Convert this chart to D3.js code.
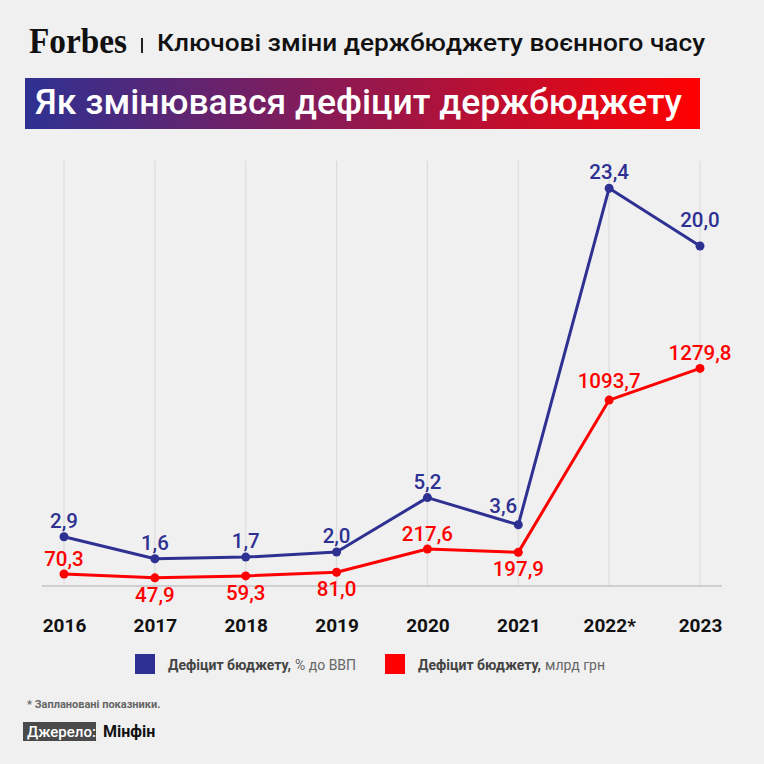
<!DOCTYPE html>
<html>
<head>
<meta charset="utf-8">
<script src="https://cdn.jsdelivr.net/npm/d3@7"></script>
<style>
  html, body { margin: 0; padding: 0; background: #f0f0f0; }
  svg { display: block; font-family: Roboto, "Noto Sans", sans-serif; }
</style>
</head>
<body>
<div id="chart"></div>
<script>
// Data
const years = ["2016", "2017", "2018", "2019", "2020", "2021", "2022*", "2023"];
const deficitPctGdp = [2.9, 1.6, 1.7, 2.0, 5.2, 3.6, 23.4, 20.0];
const deficitBnUah = [70.3, 47.9, 59.3, 81.0, 217.6, 197.9, 1093.7, 1279.8];
// where the red label sits relative to its point
const redLabelSide = ["above", "below", "below", "below", "above", "below", "above", "above"];

const blue = "#2e3192";
const red = "#ff0000";
const fmt = v => v.toFixed(1).replace(".", ",");

const W = 764, H = 764;
const svg = d3.select("#chart").append("svg")
    .attr("width", W)
    .attr("height", H);

svg.append("rect").attr("width", W).attr("height", H).attr("fill", "#f0f0f0");

// Header: logo + subtitle
svg.append("text")
    .attr("x", 29).attr("y", 53)
    .attr("font-family", "'Liberation Serif', 'DejaVu Serif', serif")
    .attr("font-weight", "bold")
    .attr("font-size", 36)
    .attr("textLength", 98)
    .attr("lengthAdjust", "spacingAndGlyphs")
    .attr("fill", "#111")
    .text("Forbes");

svg.append("rect")
    .attr("x", 141).attr("y", 38).attr("width", 2).attr("height", 15)
    .attr("fill", "#222");

svg.append("text")
    .attr("x", 157).attr("y", 51)
    .attr("font-size", 24)
    .attr("font-weight", 500)
    .attr("textLength", 548)
    .attr("lengthAdjust", "spacingAndGlyphs")
    .attr("fill", "#111")
    .text("Ключові зміни держбюджету воєнного часу");

// Gradient banner
const defs = svg.append("defs");
const grad = defs.append("linearGradient").attr("id", "bannerGrad");
grad.append("stop").attr("offset", "0%").attr("stop-color", "#2e3192");
grad.append("stop").attr("offset", "45%").attr("stop-color", "#8a1a55");
grad.append("stop").attr("offset", "100%").attr("stop-color", "#ff0000");

svg.append("rect")
    .attr("x", 25).attr("y", 78).attr("width", 675).attr("height", 51)
    .attr("fill", "url(#bannerGrad)");

svg.append("text")
    .attr("x", 35).attr("y", 114)
    .attr("font-size", 35)
    .attr("font-weight", 500)
    .attr("textLength", 647)
    .attr("lengthAdjust", "spacingAndGlyphs")
    .attr("fill", "#fff")
    .text("Як змінювався дефіцит держбюджету");

// Scales
const x = d3.scalePoint().domain(years).range([64, 700]);
const yTop = 161, yBase = 586;
const yPct = d3.scaleLinear().domain([0, 25]).range([yBase, yTop]);
const yUah = d3.scaleLinear().domain([0, 2500]).range([yBase, yTop]);

// Vertical gridlines
svg.append("g").selectAll("line")
    .data(years)
    .enter().append("line")
    .attr("x1", d => x(d)).attr("x2", d => x(d))
    .attr("y1", yTop).attr("y2", yBase)
    .attr("stroke", "#dcdcdc")
    .attr("stroke-width", 1.2);

// Baseline
svg.append("line")
    .attr("x1", 42).attr("x2", 722)
    .attr("y1", yBase).attr("y2", yBase)
    .attr("stroke", "#c4c4c4")
    .attr("stroke-width", 1.5);

// Year labels (x axis)
const xAxis = svg.append("g")
    .attr("transform", `translate(0, ${yBase})`)
    .call(d3.axisBottom(x).tickSize(0).tickPadding(0));
xAxis.select(".domain").remove();
xAxis.selectAll("text")
    .attr("y", 46)
    .attr("dy", 0)
    .attr("font-family", "Roboto, sans-serif")
    .attr("font-size", 19)
    .attr("font-weight", "bold")
    .attr("fill", "#111");

// Series
function drawSeries(values, yScale, color) {
    const pts = values.map((v, i) => [x(years[i]), yScale(v)]);
    svg.append("path")
        .attr("d", d3.line()(pts))
        .attr("fill", "none")
        .attr("stroke", color)
        .attr("stroke-width", 3)
        .attr("stroke-linejoin", "round");
    svg.append("g").selectAll("circle")
        .data(pts)
        .enter().append("circle")
        .attr("cx", d => d[0]).attr("cy", d => d[1])
        .attr("r", 4.5)
        .attr("fill", color);
}

drawSeries(deficitBnUah, yUah, red);
drawSeries(deficitPctGdp, yPct, blue);

// Value labels
svg.append("g").selectAll("text")
    .data(deficitPctGdp)
    .enter().append("text")
    .attr("x", (d, i) => x(years[i]) + (i === 5 ? -15 : 0))
    .attr("y", (d, i) => yPct(d) - (i === 7 ? 19 : (i === 5 ? 12 : 9)))
    .attr("text-anchor", "middle")
    .attr("font-size", 20.5)
    .attr("font-weight", 500)
    .attr("fill", blue)
    .text(fmt);

svg.append("g").selectAll("text")
    .data(deficitBnUah)
    .enter().append("text")
    .attr("x", (d, i) => x(years[i]))
    .attr("y", (d, i) => yUah(d) + (redLabelSide[i] === "above" ? (i === 6 ? -12 : -8) : 24))
    .attr("text-anchor", "middle")
    .attr("font-size", 20.5)
    .attr("font-weight", 500)
    .attr("fill", red)
    .text(fmt);

// Legend
const legendItems = [
    { color: blue, bold: "Дефіцит бюджету,", rest: "% до ВВП", x: 135 },
    { color: red, bold: "Дефіцит бюджету,", rest: "млрд грн", x: 385 }
];
const legend = svg.append("g").selectAll("g")
    .data(legendItems)
    .enter().append("g")
    .attr("transform", d => `translate(${d.x}, 654)`);
legend.append("rect")
    .attr("width", 20).attr("height", 20)
    .attr("fill", d => d.color);
legend.append("text")
    .attr("class", "lg-bold")
    .attr("x", 33).attr("y", 15.5)
    .attr("font-size", 14)
    .attr("font-weight", "bold")
    .attr("fill", "#444")
    .text(d => d.bold);
legend.each(function() {
    const g = d3.select(this);
    const w = g.select(".lg-bold").node().getComputedTextLength();
    g.append("text")
        .attr("x", 33 + w + 4).attr("y", 15.5)
        .attr("font-size", 14)
        .attr("fill", "#666")
        .text(d => d.rest);
});

// Footnote and source
svg.append("text")
    .attr("x", 27).attr("y", 708)
    .attr("font-size", 11)
    .attr("font-weight", "bold")
    .attr("fill", "#666")
    .text("* Заплановані показники.");

svg.append("rect")
    .attr("x", 23).attr("y", 722).attr("width", 73).attr("height", 19)
    .attr("fill", "#4a4a4a");
svg.append("text")
    .attr("x", 27).attr("y", 737)
    .attr("font-size", 15)
    .attr("font-weight", 500)
    .attr("fill", "#fff")
    .text("Джерело:");
svg.append("text")
    .attr("x", 103).attr("y", 737)
    .attr("font-size", 16)
    .attr("font-weight", "bold")
    .attr("fill", "#111")
    .text("Мінфін");
</script>
</body>
</html>
